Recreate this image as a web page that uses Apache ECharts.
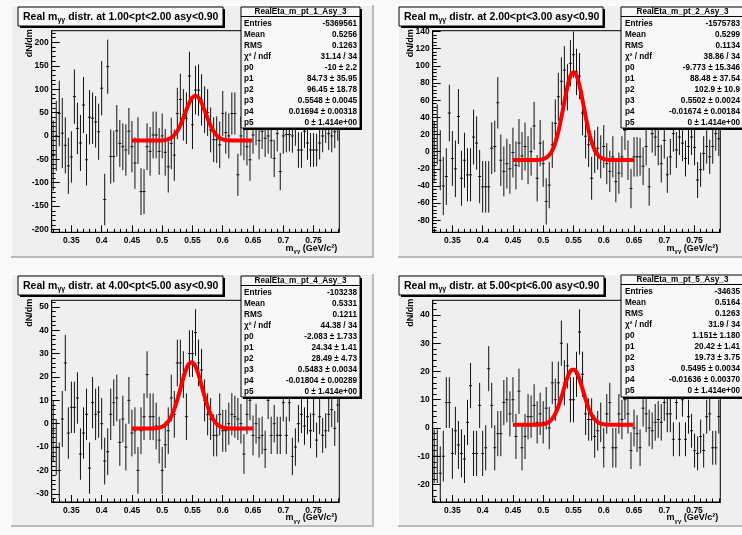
<!DOCTYPE html>
<html>
<head>
<meta charset="utf-8">
<script src="https://cdn.jsdelivr.net/npm/echarts@6/dist/echarts.min.js"></script>
<style>
  html, body { margin: 0; padding: 0; background: #f9f9f9; }
  #c { width: 742px; height: 535px; }
</style>
</head>
<body>
<div id="c"></div>
<script>
// ---- binning of the m_gg histograms ----
const binWidth = 0.005;
const binLow = 0.3175;          // lower edge of first bin
const massRange = [0.3175, 0.7925];
const fitRange = [0.45, 0.65];
const massTicks = [0.35, 0.4, 0.45, 0.5, 0.55, 0.6, 0.65, 0.7, 0.75];

// ---- 1.00 < pt < 2.00 ----
const counts1 = [-42, 0, 48, 6, -20, -64, -45, 84, 16, -15, 66, -51, 40, 38, 30, 9, 102, -136, 148, -44,
  -44, 11, -16, -23, -30, 10, -23, -58, -10, -119, -119, -23, -33, 2, 2, -33, 0, -35, -66, -16,
  -41, 48, 78, 45, 38, 128, 24, 98, 98, 77, 56, 50, 13, -8, -8, -19, 48, 7, 0, 48,
  48, -83, 0, -10, -23, -51, 2, 20, -10, 10, -5, 0, -10, -48, 5, -76, 0, 3, 3, 0,
  15, -30, -30, 10, -15, -30, -30, -30, -15, 0, 20, 5, 0, 9, 25];
const errors1 = [75, 75, 70, 75, 60, 60, 55, 58, 55, 60, 60, 55, 58, 55, 55, 60, 58, 55, 58, 58,
  55, 55, 50, 50, 55, 50, 55, 55, 50, 50, 48, 50, 52, 50, 50, 50, 48, 50, 55, 55,
  55, 55, 55, 55, 55, 52, 52, 52, 55, 55, 50, 50, 48, 48, 50, 50, 48, 45, 48, 45,
  45, 45, 42, 42, 40, 45, 40, 40, 40, 38, 40, 38, 38, 40, 38, 40, 38, 38, 36, 36,
  36, 38, 38, 36, 36, 36, 36, 35, 35, 35, 35, 35, 35, 35, 35];
const fit1 = [-10, 84.73, 96.45, 0.5548, 0.01694, 0];

// ---- 2.00 < pt < 3.00 ----
const counts2 = [0, 20, -10, -40, -29, 45, -8, -20, 41, -31, -10, -27, -27, 17, 10, -29, -41, -41, -41, 4,
  6, 57, -10, -23, -14, -20, -1, -16, 10, -5, 6, -10, 0, 30, -31, 10, -14, -58, -39, 8,
  33, 64, 82, 95, 75, 103, 113, 93, 88, 45, 18, 8, -31, 0, 4, -6, 6, -14, -23, -6,
  -35, -25, -6, 25, -10, -43, -6, -6, -6, -17, 6, -41, 21, 17, 6, -14, 13, -27, -6, 21,
  2, 17, 10, -8, 6, 17, 5, -33, -21, -2, 6, -6, 6, 21, 15];
const errors2 = [35, 35, 35, 34, 33, 33, 32, 33, 32, 32, 32, 31, 31, 32, 31, 31, 30, 30, 30, 30,
  30, 30, 30, 29, 29, 29, 29, 28, 28, 28, 28, 28, 28, 28, 27, 27, 27, 27, 27, 27,
  28, 28, 28, 28, 27, 27, 27, 27, 27, 26, 26, 26, 25, 25, 25, 25, 25, 24, 24, 24,
  24, 24, 24, 23, 23, 23, 23, 23, 22, 22, 22, 22, 22, 22, 22, 22, 21, 21, 21, 21,
  21, 21, 21, 21, 21, 21, 21, 21, 20, 20, 20, 20, 20, 20, 20];
const fit2 = [-9.773, 88.48, 102.9, 0.5502, -0.01674, 0];

// ---- 4.00 < pt < 5.00 ----
const counts3 = [-3, -10, -20, 2, 26, -4, 7, 7, 11, -13, -4, 4, -19, 9, 4, 5, 0, -16, -12, 4,
  9, 11, -8, 2, -10, 10, -4, -3, -20, -3, 3, 21, 3, 3, -1, -7, -20, -9, -3, 11,
  4, 26, 26, 21, 3, 30, 30, 39, 26, 23, 10, 4, 2, -5, -5, 4, -3, -3, 0, 4,
  3, 2, 0, -13, 4, 10, -5, 0, -6, -5, -11, 10, -5, 0, -5, -5, 9, -5, 9, -14,
  -10, 0, 4, -1, 3, -3, 4, -7, 3, -5, -3, 4, 6, -2, 8];
const errors3 = [13, 12, 12, 12, 12, 11, 11, 11, 11, 11, 11, 11, 11, 11, 11, 11, 11, 10, 10, 11,
  10, 10, 10, 10, 10, 10, 10, 10, 10, 10, 10, 10, 10, 10, 10, 10, 10, 10, 10, 10,
  10, 10, 10, 10, 10, 10, 10, 10, 10, 9, 9, 9, 9, 9, 9, 9, 9, 9, 9, 9,
  9, 9, 8.5, 8.5, 8.5, 8.5, 8.5, 8.5, 8.5, 8, 8, 8, 8, 8, 8, 8, 8, 8, 8, 8,
  8, 8, 8, 8, 7.5, 7.5, 7.5, 7.5, 7.5, 7.5, 7.5, 7.5, 7.5, 7.5, 7.5];
const fit3 = [-2.083, 24.34, 28.49, 0.5483, -0.01804, 0];

// ---- 5.00 < pt < 6.00 ----
const counts4 = [-10, -10, -16, -10, 9, 9, -9, -1, -6, -9, -11, 2, 15, -9, -9, 8, -9, -7, 21, 8,
  -7, -2, -2, 9, 10, 5, 10, -3, 13, -7, -3, 4, 4, 8, 2, 5, 2, 7, 0, 16,
  10, 16, 30, 16, 22, 10, 10, 19, 34, 19, 5, 3, 3, -3, -1, 2, -7, 5, 9, -7,
  -7, 5, 3, 10, 5, -8, 0, -2, -7, 7, 5, 0, -1, 2, 3, 2, 9, 5, 5, -4,
  9, -4, 10, -4, 4, -1, -8, -9, -3, -8, 4, 5, -7, -7, 4];
const errors4 = [9.5, 9.5, 9.5, 9, 9, 9, 9, 8.5, 8.5, 8.5, 8.5, 8, 8, 8, 8, 8, 8, 8, 8, 8,
  8, 8, 8, 8, 8, 8, 8, 8, 8, 8, 8, 8, 7.5, 7.5, 7.5, 7.5, 7.5, 7.5, 7.5, 7.5,
  7.5, 7.5, 8, 8, 8, 8, 8, 8, 8, 8, 7.5, 7.5, 7.5, 7.5, 7, 7, 7, 7, 7, 7,
  7, 7, 7, 7, 7, 6.5, 6.5, 6.5, 6.5, 6.5, 6.5, 6.5, 6.5, 6.5, 6.5, 6.5, 6.5, 6.5, 6.5, 6,
  6, 6, 6, 6, 6, 6, 6, 6, 6, 6, 6, 6, 6, 6, 6];
const fit4 = [1.151, 20.42, 19.73, 0.5495, -0.01636, 0];

// ---- y tick labels ----
const yTicks1 = [-200, -150, -100, -50, 0, 50, 100, 150, 200];
const yTicks2 = [-80, -60, -40, -20, 0, 20, 40, 60, 80, 100, 120, 140];
const yTicks3 = [-30, -20, -10, 0, 10, 20, 30, 40, 50];
const yTicks4 = [-20, -10, 0, 10, 20, 30, 40];

// ---- pad titles and stat boxes ----
const ptBins = ['1.00<pt<2.00', '2.00<pt<3.00', '4.00<pt<5.00', '5.00<pt<6.00'];
const histNames = ['RealEta_m_pt_1_Asy_3', 'RealEta_m_pt_2_Asy_3', 'RealEta_m_pt_4_Asy_3', 'RealEta_m_pt_5_Asy_3'];
const statLabels = ['Entries', 'Mean', 'RMS', 'χ² / ndf', 'p0', 'p1', 'p2', 'p3', 'p4', 'p5'];
const stats1 = ['-5369561', '0.5256', '0.1263', '31.14 / 34', '-10 ± 2.2', '84.73 ± 35.95', '96.45 ± 18.78', '0.5548 ± 0.0045', '0.01694 ± 0.00318', '0 ± 1.414e+00'];
const stats2 = ['-1575783', '0.5299', '0.1134', '38.86 / 34', '-9.773 ± 15.346', '88.48 ± 37.54', '102.9 ± 10.9', '0.5502 ± 0.0024', '-0.01674 ± 0.00184', '0 ± 1.414e+00'];
const stats3 = ['-103238', '0.5331', '0.1211', '44.38 / 34', '-2.083 ± 1.733', '24.34 ± 1.41', '28.49 ± 4.73', '0.5483 ± 0.0034', '-0.01804 ± 0.00289', '0 ± 1.414e+00'];
const stats4 = ['-34635', '0.5164', '0.1263', '31.9 / 34', '1.151± 1.180', '20.42 ± 1.41', '19.73 ± 3.75', '0.5495 ± 0.0034', '-0.01636 ± 0.00370', '0 ± 1.414e+00'];

// ---- pad geometry (pixels) ----
const pads = [
  { pad: [11, 5, 362, 252], frame: [51.7, 30.7, 287.6, 201.6], y: [-206, 225], yMinor: 10, title: [18, 7, 205, 19], stats: [241, 7, 119, 121], lx: 244, vx: 357 },
  { pad: [398, 5, 350, 252], frame: [432.7, 30.7, 287.6, 201.6], y: [-94, 141], yMinor: 4, title: [399, 7, 204, 19], stats: [621, 7, 125, 121], lx: 625, vx: 740 },
  { pad: [11, 274, 362, 252], frame: [51.7, 300.3, 287.6, 201.7], y: [-33.5, 52.8], yMinor: 2, title: [18, 276, 205, 19], stats: [241, 276, 119, 121], lx: 244, vx: 357 },
  { pad: [398, 274, 350, 252], frame: [432.7, 300.3, 287.6, 201.7], y: [-26.2, 45.2], yMinor: 2, title: [399, 276, 205, 19], stats: [621, 275, 125, 122], lx: 625, vx: 740 }
];

const sets = [
  { counts: counts1, errors: errors1, fit: fit1, ticks: yTicks1, stats: stats1 },
  { counts: counts2, errors: errors2, fit: fit2, ticks: yTicks2, stats: stats2 },
  { counts: counts3, errors: errors3, fit: fit3, ticks: yTicks3, stats: stats3 },
  { counts: counts4, errors: errors4, fit: fit4, ticks: yTicks4, stats: stats4 }
];

const FONT = 'Liberation Sans, Arial, Helvetica, sans-serif';

function steps(from, to, step) {
  const out = [];
  const n = Math.round((to - from) / step);
  for (let k = 0; k <= n; k++) out.push(+(from + k * step).toFixed(6));
  return out;
}

// gaussian on a constant background, evaluated over the fit range
function fitCurve(p) {
  const pts = [];
  const n = 200;
  for (let k = 0; k <= n; k++) {
    const x = fitRange[0] + (fitRange[1] - fitRange[0]) * k / n;
    const z = (x - p[3]) / p[4];
    pts.push([x, p[0] + p[2] * Math.exp(-0.5 * z * z)]);
  }
  return pts;
}

function renderErrorBar(params, api) {
  const x = api.value(0), y = api.value(1), e = api.value(2);
  const c = api.coord([x, y]);
  const hi = api.coord([x, y + e]);
  const lo = api.coord([x, y - e]);
  const l = api.coord([x - binWidth / 2, y]);
  const r = api.coord([x + binWidth / 2, y]);
  const style = { stroke: '#111', lineWidth: 1 };
  return {
    type: 'group',
    children: [
      { type: 'line', shape: { x1: c[0], y1: hi[1], x2: c[0], y2: lo[1] }, style },
      { type: 'line', shape: { x1: l[0], y1: c[1], x2: r[0], y2: c[1] }, style }
    ]
  };
}

const grid = [], xAxis = [], yAxis = [], series = [], graphic = [];
const xMinor = steps(0.32, 0.79, 0.01);

pads.forEach((P, k) => {
  const S = sets[k];
  const [fx, fy, fw, fh] = P.frame;
  grid.push({ left: fx, top: fy, width: fw, height: fh, show: true, borderColor: '#000', borderWidth: 1,
    backgroundColor: 'transparent', containLabel: false, outerBoundsMode: 'none' });

  const axisFont = { color: '#000', fontFamily: FONT, fontWeight: 'bold', fontSize: 8.5 };
  xAxis.push({
    type: 'value', gridIndex: k, min: massRange[0], max: massRange[1], position: 'bottom',
    axisLine: { show: true, onZero: false, lineStyle: { color: '#000', width: 1 } },
    axisTick: { show: true, inside: true, length: 7, customValues: massTicks, lineStyle: { color: '#000' } },
    axisLabel: Object.assign({ show: true, customValues: massTicks, margin: 4, formatter: v => String(v) }, axisFont),
    splitLine: { show: false }
  });
  xAxis.push({
    type: 'value', gridIndex: k, min: massRange[0], max: massRange[1], position: 'bottom',
    axisLine: { show: false, onZero: false },
    axisTick: { show: true, inside: true, length: 3.5, customValues: xMinor, lineStyle: { color: '#000' } },
    axisLabel: { show: false }, splitLine: { show: false }
  });
  const yMinor = steps(Math.ceil(P.y[0] / P.yMinor) * P.yMinor, Math.floor(P.y[1] / P.yMinor) * P.yMinor, P.yMinor);
  yAxis.push({
    type: 'value', gridIndex: k, min: P.y[0], max: P.y[1], position: 'left',
    axisLine: { show: true, onZero: false, lineStyle: { color: '#000', width: 1 } },
    axisTick: { show: true, inside: true, length: 8, customValues: S.ticks, lineStyle: { color: '#000' } },
    axisLabel: Object.assign({ show: true, customValues: S.ticks, margin: 3, formatter: v => String(v) }, axisFont),
    splitLine: { show: false }
  });
  yAxis.push({
    type: 'value', gridIndex: k, min: P.y[0], max: P.y[1], position: 'left',
    axisLine: { show: false, onZero: false },
    axisTick: { show: true, inside: true, length: 4, customValues: yMinor, lineStyle: { color: '#000' } },
    axisLabel: { show: false }, splitLine: { show: false }
  });

  series.push({
    type: 'custom', xAxisIndex: 2 * k, yAxisIndex: 2 * k, clip: true, silent: true, z: 3,
    renderItem: renderErrorBar,
    data: S.counts.map((c, i) => [binLow + binWidth * (i + 0.5), c, S.errors[i]])
  });
  series.push({
    type: 'line', xAxisIndex: 2 * k, yAxisIndex: 2 * k, showSymbol: false, silent: true, z: 4,
    lineStyle: { color: '#ff0000', width: 4 }, data: fitCurve(S.fit)
  });

  // pad background with bevel
  const [px, py, pw, ph] = P.pad;
  graphic.push({ type: 'rect', z: -10, shape: { x: px, y: py, width: pw, height: ph }, style: { fill: '#efefef' } });
  graphic.push({ type: 'polyline', z: -9, shape: { points: [[px, py + ph], [px, py], [px + pw, py]] }, style: { stroke: '#ffffff', lineWidth: 1.5, fill: null } });
  graphic.push({ type: 'polyline', z: -9, shape: { points: [[px + pw, py], [px + pw, py + ph], [px, py + ph]] }, style: { stroke: '#a8a8a8', lineWidth: 1.5, fill: null } });

  // title box
  const [tx, ty, tw, th] = P.title;
  graphic.push({ type: 'rect', z: 50, shape: { x: tx + 2, y: ty + 2, width: tw, height: th }, style: { fill: '#000' } });
  graphic.push({ type: 'rect', z: 51, shape: { x: tx, y: ty, width: tw, height: th }, style: { fill: '#f8f8f8', stroke: '#000', lineWidth: 1 } });
  graphic.push({
    type: 'text', z: 52, x: tx + 5, y: ty + th / 2 + 0.5,
    style: {
      text: '{t|Real m}{s|γγ}{t| distr. at ' + ptBins[k] + ' asy<0.90}',
      align: 'left', verticalAlign: 'middle', textAlign: 'left', textVerticalAlign: 'middle',
      rich: {
        t: { fontFamily: FONT, fontWeight: 'bold', fontSize: 10.5, lineHeight: 14, fill: '#000' },
        s: { fontFamily: FONT, fontWeight: 'bold', fontSize: 7, lineHeight: 8, verticalAlign: 'bottom', fill: '#000' }
      }
    }
  });

  // stats box
  const [sx, sy, sw, sh] = P.stats;
  graphic.push({ type: 'rect', z: 50, shape: { x: sx + 2, y: sy + 2, width: sw, height: sh }, style: { fill: '#000' } });
  graphic.push({ type: 'rect', z: 51, shape: { x: sx, y: sy, width: sw, height: sh }, style: { fill: '#f8f8f8', stroke: '#000', lineWidth: 1 } });
  graphic.push({ type: 'line', z: 52, shape: { x1: sx, y1: sy + 9.5, x2: sx + sw, y2: sy + 9.5 }, style: { stroke: '#000', lineWidth: 1 } });
  const statFont = 'bold 8.2px ' + FONT;
  graphic.push({ type: 'text', z: 52, x: (P.lx + P.vx) / 2, y: sy + 5,
    style: { text: histNames[k], font: statFont, fill: '#000', align: 'center', verticalAlign: 'middle', textAlign: 'center', textVerticalAlign: 'middle' } });
  statLabels.forEach((lab, j) => {
    const yy = sy + 16.8 + 11 * j;
    graphic.push({ type: 'text', z: 52, x: P.lx, y: yy,
      style: { text: lab, font: statFont, fill: '#000', align: 'left', verticalAlign: 'middle', textAlign: 'left', textVerticalAlign: 'middle' } });
    graphic.push({ type: 'text', z: 52, x: P.vx, y: yy,
      style: { text: S.stats[j], font: statFont, fill: '#000', align: 'right', verticalAlign: 'middle', textAlign: 'right', textVerticalAlign: 'middle' } });
  });

  // axis titles
  graphic.push({ type: 'text', z: 20, x: fx - 22.5, y: fy - 1.5, rotation: Math.PI / 2,
    style: { text: 'dN/dm', font: 'bold 9px ' + FONT, fill: '#000', align: 'right', verticalAlign: 'middle', textAlign: 'right', textVerticalAlign: 'middle' } });
  graphic.push({
    type: 'text', z: 20, x: fx + fw - 2, y: fy + fh + 16,
    style: {
      text: '{t|m}{s|γγ}{t| (GeV/c²)}',
      align: 'right', verticalAlign: 'middle', textAlign: 'right', textVerticalAlign: 'middle',
      rich: {
        t: { fontFamily: FONT, fontWeight: 'bold', fontSize: 9, lineHeight: 12, fill: '#000' },
        s: { fontFamily: FONT, fontWeight: 'bold', fontSize: 6, lineHeight: 7, verticalAlign: 'bottom', fill: '#000' }
      }
    }
  });
});

const chart = echarts.init(document.getElementById('c'), null, { renderer: 'canvas' });
chart.setOption({
  animation: false,
  backgroundColor: 'transparent',
  grid, xAxis, yAxis, series,
  graphic: { elements: graphic }
});
</script>
</body>
</html>
